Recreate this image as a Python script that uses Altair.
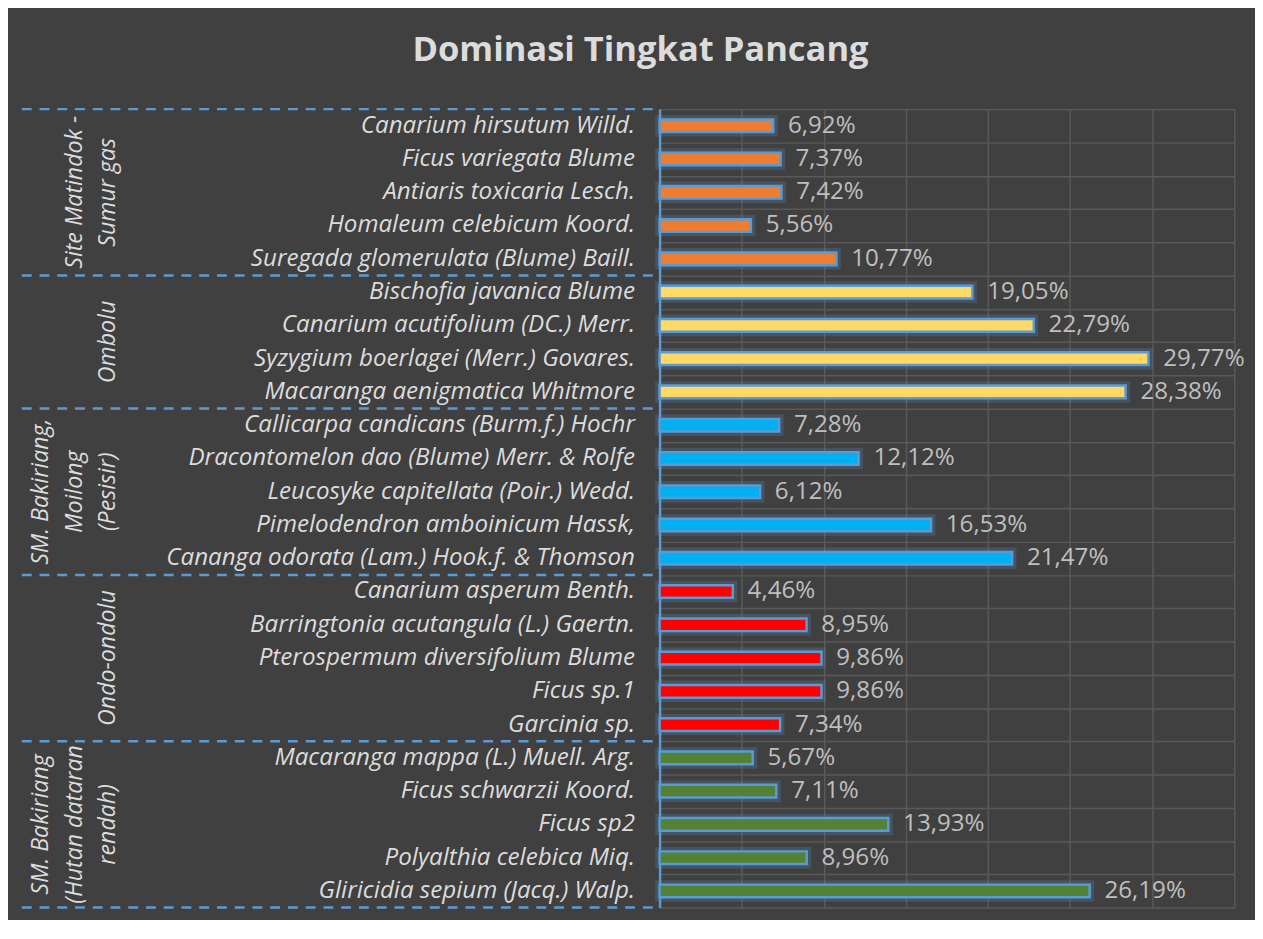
import altair as alt
import pandas as pd

TITLE = "Dominasi Tingkat Pancang"

SPECIES = [
    "Canarium hirsutum Willd.", "Ficus variegata Blume", "Antiaris toxicaria Lesch.",
    "Homaleum celebicum Koord.", "Suregada glomerulata (Blume) Baill.",
    "Bischofia javanica Blume", "Canarium acutifolium (DC.) Merr.",
    "Syzygium boerlagei  (Merr.) Govares.", "Macaranga aenigmatica Whitmore",
    "Callicarpa candicans (Burm.f.) Hochr", "Dracontomelon dao (Blume) Merr. & Rolfe",
    "Leucosyke capitellata (Poir.) Wedd.", "Pimelodendron amboinicum Hassk,",
    "Cananga odorata (Lam.) Hook.f. & Thomson",
    "Canarium asperum Benth.", "Barringtonia acutangula (L.) Gaertn.",
    "Pterospermum diversifolium Blume", "Ficus sp.1", "Garcinia sp.",
    "Macaranga mappa (L.) Muell. Arg.", "Ficus schwarzii Koord.", "Ficus sp2",
    "Polyalthia celebica Miq.", "Gliricidia sepium (Jacq.) Walp.",
]
VALUES = [6.92, 7.37, 7.42, 5.56, 10.77,
          19.05, 22.79, 29.77, 28.38,
          7.28, 12.12, 6.12, 16.53, 21.47,
          4.46, 8.95, 9.86, 9.86, 7.34,
          5.67, 7.11, 13.93, 8.96, 26.19]
GROUPS = ["Site Matindok - Sumur gas", "Ombolu", "SM. Bakiriang, Moilong (Pesisir)",
          "Ondo-ondolu", "SM. Bakiriang (Hutan dataran rendah)"]
GROUP_LINES = [["Site Matindok -", "Sumur gas"], ["Ombolu"],
               ["SM. Bakiriang,", "Moilong", "(Pesisir)"], ["Ondo-ondolu"],
               ["SM. Bakiriang", "(Hutan dataran", "rendah)"]]
GROUP_SIZES = [5, 4, 5, 5, 5]
COLORS = ["#ED7D31", "#FFD966", "#00B0F0", "#FF0000", "#548235"]
GRID_TICKS = [0, 5, 10, 15, 20, 25, 30, 35]

N = len(SPECIES)
grp_col = []
for g, n in zip(GROUPS, GROUP_SIZES):
    grp_col += [g] * n
df = pd.DataFrame({
    "species": SPECIES,
    "value": VALUES,
    "group": grp_col,
    "center": [i + 0.5 for i in range(N)],
    "label": [f"{v:.2f}".replace(".", ",") + "%" for v in VALUES],
})

# one row per line of each group label; k = 0 for the last line
rows = []
starts = []
s = 0
for lines, n in zip(GROUP_LINES, GROUP_SIZES):
    starts.append(s)
    for j, line in enumerate(lines):
        rows.append({"mid": s + n / 2, "k": len(lines) - 1 - j, "line": line})
    s += n
gdf = pd.DataFrame(rows)
bdf = pd.DataFrame({"b": starts + [N]})

BLUE = "#5B9BD5"
GRID = "#595959"
LIGHT = "#DCDCDC"
FONT = "Open Sans"
LEFT_W, RIGHT_W, H = 640, 583, 810
LINE_GAP = 34

# ---------- left panel (labels) ----------
yq = alt.Scale(domain=[0, N], reverse=True, nice=False, zero=False)

species_txt = alt.Chart(df).mark_text(
    align="right", baseline="middle", font=FONT, fontStyle="italic",
    fontSize=24.5, color=LIGHT
).encode(y=alt.Y("center:Q", scale=yq, axis=None), x=alt.value(LEFT_W - 18),
         text="species:N")

group_txt = alt.Chart(gdf).mark_text(
    angle=270, align="center", baseline="middle",
    font=FONT, fontStyle="italic", fontSize=23.5, color=LIGHT
).encode(
    y=alt.Y("mid:Q", scale=yq, axis=None),
    x=alt.X("k:Q", scale=alt.Scale(domain=[0, 1], range=[88, 88 - LINE_GAP]), axis=None),
    text="line:N")

sep = alt.Chart(bdf).mark_rule(
    color=BLUE, strokeWidth=2.5, strokeDash=[10, 8]
).encode(y=alt.Y("b:Q", scale=yq, axis=None), x=alt.value(0), x2=alt.value(LEFT_W))

left = alt.layer(sep, species_txt, group_txt).resolve_scale(x="independent").properties(
    width=LEFT_W, height=H)

# ---------- right panel (bars) ----------
yb = alt.Y("species:N", sort=SPECIES,
           scale=alt.Scale(domain=SPECIES, paddingInner=0, paddingOuter=0),
           axis=alt.Axis(labels=False, ticks=False, domain=True, domainColor=BLUE,
                         domainWidth=2.5, grid=True, gridColor=GRID, gridWidth=1.5,
                         tickBand="extent", title=None, minExtent=0, maxExtent=0,
                         labelPadding=0, offset=0))
xq = alt.X("value:Q", scale=alt.Scale(domain=[0, 35], nice=False),
           axis=alt.Axis(values=GRID_TICKS, labels=False, ticks=False, domain=False,
                         grid=True, gridColor=GRID, gridWidth=1.5, title=None,
                         minExtent=0, maxExtent=0))

base = alt.Chart(df).encode(y=yb, x=xq)
glow = base.mark_bar(height=alt.RelativeBandSize(0.38), fillOpacity=0, stroke=BLUE,
                     strokeWidth=9, strokeOpacity=0.22)
bars = base.mark_bar(height=alt.RelativeBandSize(0.38), stroke=BLUE,
                     strokeWidth=2.5).encode(
    color=alt.Color("group:N", scale=alt.Scale(domain=GROUPS, range=COLORS), legend=None))
vals = base.mark_text(align="left", baseline="middle", dx=15, font=FONT,
                      fontSize=24.5, color="#BFBFBF").encode(text="label:N")

right = alt.layer(glow, bars, vals).properties(width=RIGHT_W, height=H)

chart = alt.hconcat(left, right, spacing=0).properties(
    title=alt.TitleParams(TITLE, fontSize=35, font=FONT, fontWeight="bold",
                          color=LIGHT, anchor="middle", offset=41, dx=8),
    padding={"left": 12, "top": 18, "right": 10, "bottom": 4},
    background="#404040",
).configure_view(stroke=None)

chart.save("out.html", embed_options={"renderer": "svg", "actions": False})
